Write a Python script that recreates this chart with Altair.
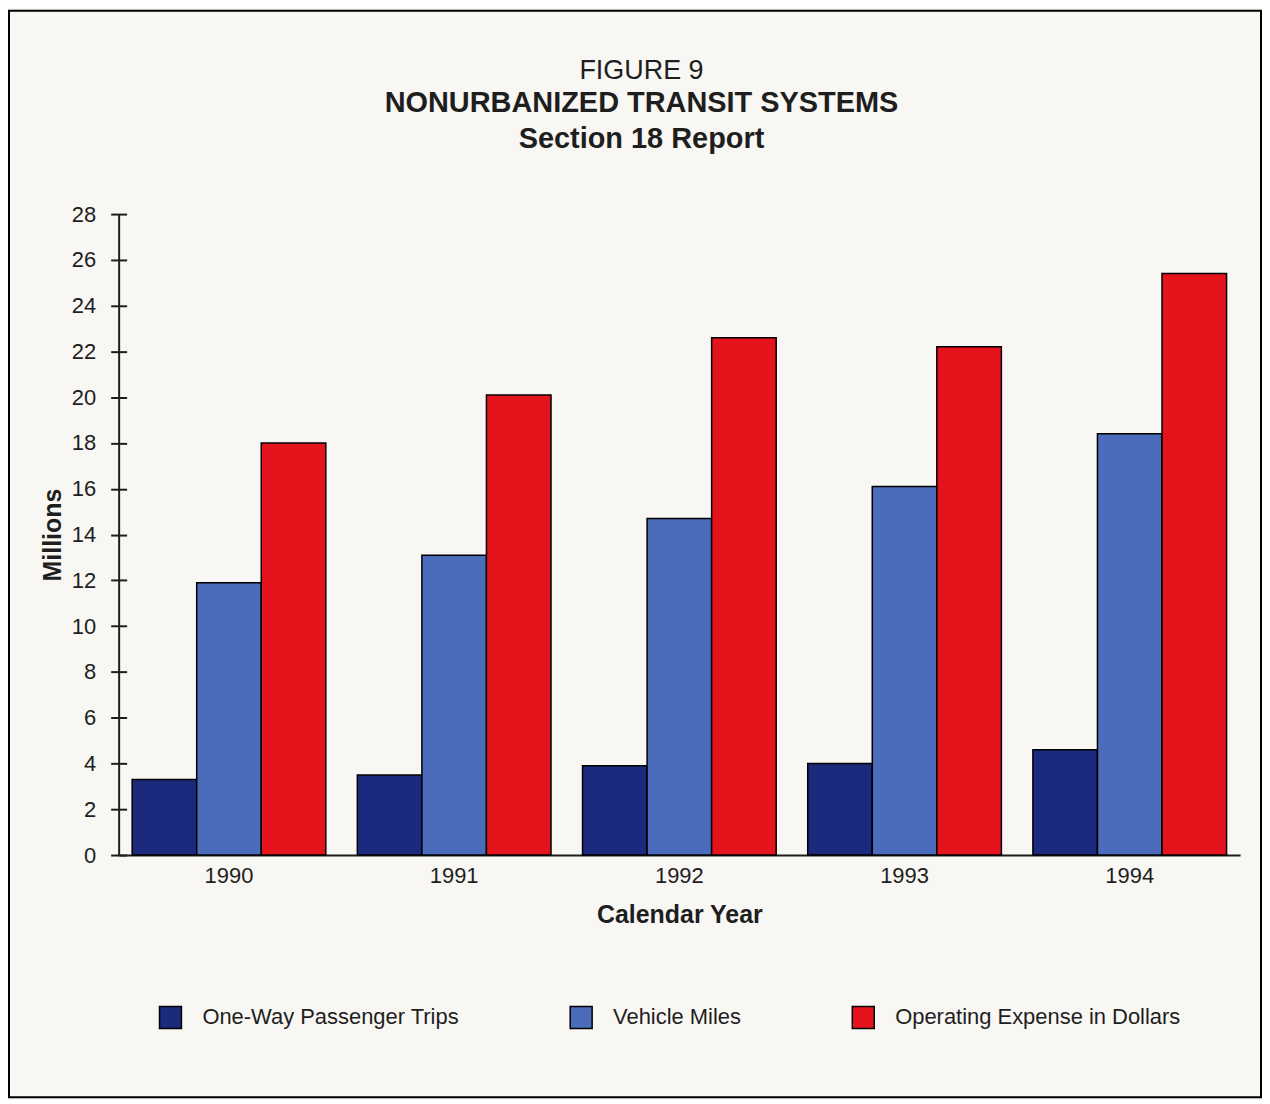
import altair as alt
import pandas as pd

years = ["1990", "1991", "1992", "1993", "1994"]
series = ["One-Way Passenger Trips", "Vehicle Miles", "Operating Expense in Dollars"]
trips = [3.3, 3.5, 3.9, 4.0, 4.6]
miles = [11.9, 13.1, 14.7, 16.1, 18.4]
expense = [18.0, 20.1, 22.6, 22.2, 25.4]
colors = ["#1c2a7e", "#4b6cba", "#e5141c"]
y_ticks = list(range(0, 29, 2))

rows = []
for i, yr in enumerate(years):
    for s, vals in zip(series, [trips, miles, expense]):
        rows.append({"year": yr, "series": s, "value": vals[i]})
df = pd.DataFrame(rows)

FONT = "Liberation Sans"
INK = "#1e1e1e"
W, H = 1125, 643

yscale = alt.Scale(domain=[0, 28], nice=False)
xscale = alt.Scale(paddingInner=0.14, paddingOuter=0.06)

x_enc = alt.X("year:N", title="Calendar Year", scale=xscale, sort=years,
              axis=alt.Axis(labelAngle=0, ticks=False, domainColor=INK, domainWidth=2,
                            labelFontSize=22, labelPadding=11, labelColor=INK,
                            titleFontSize=25, titleFontWeight="bold", titleColor=INK,
                            titlePadding=16, labelFont=FONT, titleFont=FONT))
xoff = alt.XOffset("series:N", sort=series, scale=alt.Scale(paddingInner=0, paddingOuter=0))

bars = alt.Chart(df).mark_bar(stroke="black", strokeWidth=1.5).encode(
    x=x_enc,
    xOffset=xoff,
    y=alt.Y("value:Q", title="Millions", scale=yscale,
            axis=alt.Axis(values=y_ticks, grid=False, tickSize=8, tickWidth=2, tickColor=INK,
                          domainColor=INK, domainWidth=2, labelFontSize=22, labelPadding=15,
                          labelColor=INK, titleFontSize=25, titleFontWeight="bold",
                          titleColor=INK, titlePadding=6, labelFont=FONT, titleFont=FONT,
                          orient="left")),
    color=alt.Color("series:N", sort=series,
                    scale=alt.Scale(domain=series, range=colors),
                    legend=alt.Legend(title=None, orient="none", legendX=40, legendY=794,
                                      direction="horizontal", symbolType="square",
                                      symbolSize=484, symbolStrokeColor="black",
                                      symbolStrokeWidth=1.5, symbolOpacity=1,
                                      labelFontSize=22, labelFont=FONT, labelColor=INK,
                                      labelLimit=500, labelOffset=20, columnPadding=108)),
)

# inner half of the crossing y ticks
inner = alt.Chart(df).mark_bar(opacity=0).encode(
    x=x_enc,
    xOffset=xoff,
    y=alt.Y("value:Q", scale=yscale,
            axis=alt.Axis(orient="right", offset=-W, values=y_ticks, grid=False,
                          labels=False, domain=False, tickSize=8, tickWidth=2,
                          tickColor=INK, title=None)),
)

frame = alt.Chart(pd.DataFrame({"f": [0]})).mark_rect(
    fillOpacity=0, stroke="black", strokeWidth=2
).encode(x=alt.value(-110), x2=alt.value(1146), y=alt.value(-204), y2=alt.value(886))

chart = alt.layer(frame, bars, inner).resolve_axis(y="independent").properties(
    width=W, height=H, padding=0,
    background="#f8f7f3",
    title=alt.TitleParams(
        text="FIGURE 9",
        subtitle=["NONURBANIZED TRANSIT SYSTEMS", "Section 18 Report"],
        font=FONT, subtitleFont=FONT,
        fontSize=27, fontWeight="normal", color=INK,
        subtitleFontSize=29, subtitleFontWeight="bold", subtitleColor=INK,
        subtitleLineHeight=36, subtitlePadding=5,
        anchor="middle", offset=-146, dx=-38,
    ),
).configure_view(stroke=None)

chart.save("out.html", embed_options={"renderer": "svg", "actions": False})
